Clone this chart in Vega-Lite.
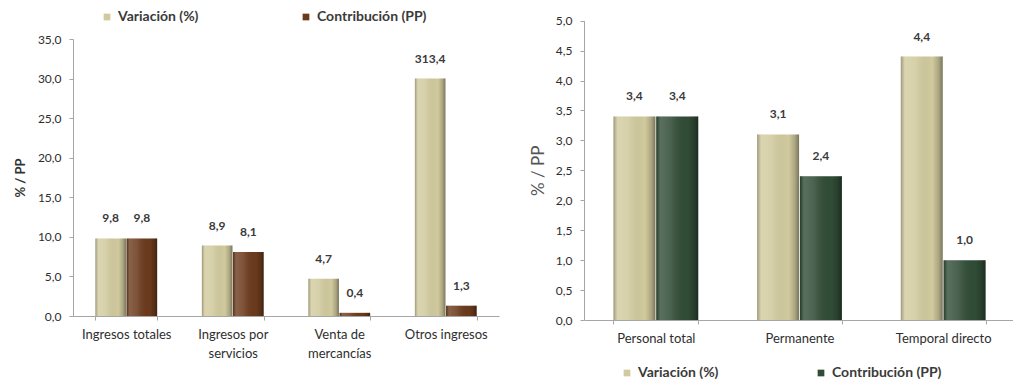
{
  "$schema": "https://vega.github.io/schema/vega-lite/v6.json",
  "padding": {"left": 14, "top": 10, "right": 0, "bottom": 0},
  "datasets": {
    "ingresos": [
      {"categoria": "Ingresos totales", "serie": "Variación (%)", "valor": 9.8},
      {"categoria": "Ingresos totales", "serie": "Contribución (PP)", "valor": 9.8},
      {"categoria": "Ingresos por servicios", "serie": "Variación (%)", "valor": 8.9},
      {"categoria": "Ingresos por servicios", "serie": "Contribución (PP)", "valor": 8.1},
      {"categoria": "Venta de mercancías", "serie": "Variación (%)", "valor": 4.7},
      {"categoria": "Venta de mercancías", "serie": "Contribución (PP)", "valor": 0.4},
      {"categoria": "Otros ingresos", "serie": "Variación (%)", "valor": 313.4},
      {"categoria": "Otros ingresos", "serie": "Contribución (PP)", "valor": 1.3}
    ],
    "personal": [
      {"categoria": "Personal total", "serie": "Variación (%)", "valor": 3.4},
      {"categoria": "Personal total", "serie": "Contribución (PP)", "valor": 3.4},
      {"categoria": "Permanente", "serie": "Variación (%)", "valor": 3.1},
      {"categoria": "Permanente", "serie": "Contribución (PP)", "valor": 2.4},
      {"categoria": "Temporal directo", "serie": "Variación (%)", "valor": 4.4},
      {"categoria": "Temporal directo", "serie": "Contribución (PP)", "valor": 1.0}
    ]
  },
  "spacing": 30,
  "resolve": {
    "scale": {"x": "independent", "y": "independent", "xOffset": "independent", "color": "independent"},
    "axis": {"x": "independent", "y": "independent"},
    "legend": {"color": "independent"}
  },
  "hconcat": [
    {
      "width": 426,
      "height": 277,
      "data": {"name": "ingresos"},
      "layer": [
        {
          "mark": {"type": "tick", "opacity": 0, "clip": true},
          "encoding": {
            "x": {
              "field": "categoria", "type": "nominal", "sort": null,
              "scale": {"paddingInner": 0.42, "paddingOuter": 0.21},
              "axis": {
                "title": null, "labelAngle": 0, "tickBand": "extent",
                "labelFontSize": 13, "labelPadding": 8, "labelLineHeight": 19,
                "labelExpr": "datum.label == 'Ingresos por servicios' ? ['Ingresos por', 'servicios'] : datum.label == 'Venta de mercancías' ? ['Venta de', 'mercancías'] : datum.label"
              }
            },
            "y": {
              "field": "valor", "type": "quantitative",
              "scale": {"domain": [0, 35], "nice": false},
              "axis": {
                "values": [0, 5, 10, 15, 20, 25, 30, 35], "format": ".1f",
                "title": "% / PP", "titleFontWeight": "bold", "titleFontSize": 13,
                "titlePadding": 10, "labelFontSize": 12, "labelPadding": 8
              }
            }
          }
        },
        {
          "layer": [
            {
              "mark": {"type": "bar"},
              "encoding": {
                "x": {"field": "categoria", "type": "nominal", "sort": null},
                "xOffset": {"field": "serie", "sort": null, "scale": {"paddingInner": 0.02}},
                "y": {
                  "field": "valor", "type": "quantitative",
                  "scale": {"domain": [0, 30], "nice": false, "range": [277, 39.571], "clamp": true},
                  "axis": null
                },
                "color": {
                  "field": "serie", "type": "nominal",
                  "scale": {"domain": ["Variación (%)", "Contribución (PP)"], "range": ["#d1ca9e", "#6b3a1c"]},
                  "legend": {
                    "title": null, "orient": "none", "direction": "horizontal",
                    "legendX": 27, "legendY": -29, "symbolType": "square", "symbolSize": 45,
                    "labelFontSize": 14, "labelFontWeight": "bold", "labelColor": "#3a3a3a",
                    "columnPadding": 100, "labelOffset": 4
                  }
                }
              }
            },
            {
              "mark": {
                "type": "bar",
                "color": {
                  "gradient": "linear", "x1": 0, "x2": 1, "y1": 0, "y2": 0,
                  "stops": [
                    {"offset": 0, "color": "rgba(0,0,0,0.25)"},
                    {"offset": 0.1, "color": "rgba(255,255,255,0.20)"},
                    {"offset": 0.35, "color": "rgba(255,255,255,0.12)"},
                    {"offset": 0.75, "color": "rgba(0,0,0,0.0)"},
                    {"offset": 0.9, "color": "rgba(0,0,0,0.18)"},
                    {"offset": 1, "color": "rgba(0,0,0,0.42)"}
                  ]
                }
              },
              "encoding": {
                "x": {"field": "categoria", "type": "nominal", "sort": null},
                "xOffset": {"field": "serie", "sort": null},
                "y": {"field": "valor", "type": "quantitative"}
              }
            },
            {
              "mark": {"type": "text", "dy": -20, "fontSize": 12, "fontWeight": "bold", "color": "#3a3a3a"},
              "encoding": {
                "x": {"field": "categoria", "type": "nominal", "sort": null},
                "xOffset": {"field": "serie", "sort": null},
                "y": {"field": "valor", "type": "quantitative"},
                "text": {"field": "valor", "type": "quantitative", "format": ".1f"}
              }
            }
          ]
        }
      ],
      "resolve": {"scale": {"y": "independent"}}
    },
    {
      "width": 431,
      "height": 281,
      "data": {"name": "personal"},
      "layer": [
        {
          "mark": {"type": "bar"},
          "encoding": {
            "x": {
              "field": "categoria", "type": "nominal", "sort": null,
              "scale": {"paddingInner": 0.41, "paddingOuter": 0.205},
              "axis": {
                "title": null, "labelAngle": 0, "tickBand": "extent",
                "labelFontSize": 13, "labelPadding": 8
              }
            },
            "xOffset": {"field": "serie", "sort": null, "scale": {"paddingInner": 0.02}},
            "y": {
              "field": "valor", "type": "quantitative",
              "scale": {"domain": [0, 5], "nice": false, "range": [281, -18.3]},
              "axis": {
                "values": [0, 0.5, 1, 1.5, 2, 2.5, 3, 3.5, 4, 4.5, 5], "format": ".1f",
                "labelOverlap": false, "tickCount": 11,
                "title": "% / PP", "titleFontWeight": "normal", "titleFontSize": 17,
                "titleColor": "#555555", "titlePadding": 8, "labelFontSize": 12, "labelPadding": 8
              }
            },
            "color": {
              "field": "serie", "type": "nominal",
              "scale": {"domain": ["Variación (%)", "Contribución (PP)"], "range": ["#d1ca9e", "#304c36"]},
              "legend": {
                "title": null, "orient": "none", "direction": "horizontal",
                "legendX": 36, "legendY": 327, "symbolType": "square", "symbolSize": 45,
                "labelFontSize": 14, "labelFontWeight": "bold", "labelColor": "#3a3a3a",
                "columnPadding": 95, "labelOffset": 4
              }
            }
          }
        },
        {
          "mark": {
            "type": "bar",
            "color": {
              "gradient": "linear", "x1": 0, "x2": 1, "y1": 0, "y2": 0,
              "stops": [
                {"offset": 0, "color": "rgba(0,0,0,0.25)"},
                {"offset": 0.1, "color": "rgba(255,255,255,0.20)"},
                {"offset": 0.35, "color": "rgba(255,255,255,0.12)"},
                {"offset": 0.75, "color": "rgba(0,0,0,0.0)"},
                {"offset": 0.9, "color": "rgba(0,0,0,0.18)"},
                {"offset": 1, "color": "rgba(0,0,0,0.42)"}
              ]
            }
          },
          "encoding": {
            "x": {"field": "categoria", "type": "nominal", "sort": null},
            "xOffset": {"field": "serie", "sort": null},
            "y": {"field": "valor", "type": "quantitative"}
          }
        },
        {
          "mark": {"type": "text", "dy": -20, "fontSize": 12, "fontWeight": "bold", "color": "#3a3a3a"},
          "encoding": {
            "x": {"field": "categoria", "type": "nominal", "sort": null},
            "xOffset": {"field": "serie", "sort": null},
            "y": {"field": "valor", "type": "quantitative"},
            "text": {"field": "valor", "type": "quantitative", "format": ".1f"}
          }
        }
      ]
    }
  ],
  "config": {
    "font": "Lato",
    "locale": {
      "number": {"decimal": ",", "thousands": ".", "grouping": [3], "currency": ["", " €"]}
    },
    "view": {"stroke": null},
    "axis": {
      "grid": false, "domainColor": "#a6a6a6", "tickColor": "#a6a6a6", "tickSize": 4,
      "labelColor": "#2e2e2e", "titleColor": "#333333", "labelFont": "Lato", "titleFont": "Lato"
    },
    "legend": {"labelFont": "Lato"}
  }
}
